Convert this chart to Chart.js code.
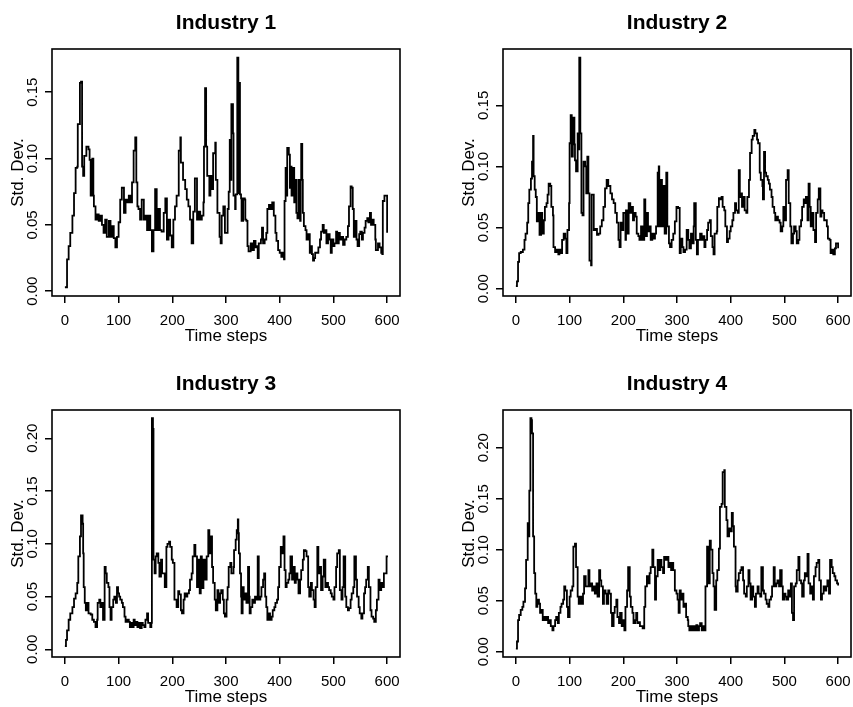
<!DOCTYPE html>
<html><head><meta charset="utf-8">
<script src="https://cdn.jsdelivr.net/npm/chart.js@4.4.1/dist/chart.umd.min.js"></script>
<style>
html,body{margin:0;padding:0;background:#fff;overflow:hidden;width:853px;height:707px;position:relative;}
canvas{position:absolute;}
</style></head><body>
<script>
// ---------- data ----------
const titles = ['Industry 1','Industry 2','Industry 3','Industry 4'];
const xLabel = 'Time steps';
const yLabel = 'Std. Dev.';
const xTickValues = [0,100,200,300,400,500,600];
const yTicks1 = ['0.00','0.05','0.10','0.15'];
const yTicks2 = ['0.00','0.05','0.10','0.15'];
const yTicks3 = ['0.00','0.05','0.10','0.15','0.20'];
const yTicks4 = ['0.00','0.05','0.10','0.15','0.20'];

const t1 = [0,4,7,10,14,17,20,23,24,28,30,32,34,36,40,44,46,48,51,53,54,57,60,63,66,69,72,75,78,82,85,88,91,94,97,100,103,106,110,113,116,119,122,125,128,131,133,135,137,140,143,147,150,153,156,159,162,165,168,171,174,177,180,184,187,190,193,196,199,202,205,208,212,215,216,220,224,227,230,233,236,239,242,246,249,252,255,258,259,261,263,265,269,271,273,276,280,281,284,288,290,292,295,
298,303,305,307,309,310,313,314,317,318,321,323,324,326,328,329,332,335,336,338,340,342,346,349,352,355,357,359,361,365,367,369,372,375,377,380,383,386,389,392,394,397,400,403,406,408,409,411,412,414,417,419,420,422,425,427,429,431,433,435,438,439,440,442,443,445,448,450,453,456,458,460,462,464,466,470,472,475,477,480,482,485,487,490,493,495,497,500,502,505,507,510,512,515,518,521,524,527,529,532,534,536,538,540,543,545,548,550,553,555,558,560,563,565,568,570,573,575,578,579,583,586,589,591,592,595,600];
const v1 = [.003,.024,.034,.044,.057,.074,.093,.094,.126,.157,.158,.094,.087,.102,.109,.107,.099,.072,.100,.072,.064,.054,.058,.053,.057,.050,.044,.054,.041,.053,.041,.049,.040,.033,.041,.052,.069,.078,.059,.069,.067,.072,.067,.082,.106,.116,.082,.064,.062,.054,.069,.054,.057,.046,.057,.046,.030,.046,.077,.046,.062,.046,.045,.059,.070,.039,.054,.042,.033,.054,.064,.072,.106,.116,.097,.084,.077,.069,.064,.054,.036,.060,.085,.054,.060,.054,.057,.067,.109,.153,.109,.087,.072,.087,.077,.104,.112,.084,.059,.041,.036,.057,.064,
.044,.062,.075,.114,.084,.141,.119,.072,.062,.073,.176,.074,.157,.073,.070,.053,.070,.069,.054,.053,.034,.030,.036,.031,.038,.033,.034,.025,.036,.039,.048,.036,.039,.044,.062,.065,.062,.067,.057,.044,.038,.031,.029,.026,.029,.024,.068,.093,.072,.108,.103,.078,.094,.072,.093,.067,.084,.059,.055,.084,.053,.084,.111,.084,.059,.049,.046,.039,.043,.029,.034,.028,.023,.025,.029,.029,.033,.039,.045,.050,.044,.046,.036,.043,.039,.029,.039,.034,.036,.045,.036,.044,.039,.041,.035,.039,.041,.049,.064,.079,.078,.062,.041,.053,.039,.034,.043,.045,.039,.044,.048,.053,.055,.052,.059,.050,.054,.050,.039,.031,.036,.033,.029,.028,.068,.072,.044];

const t2 = [0,2,4,6,9,13,16,18,21,23,25,28,30,32,33,35,37,39,42,44,47,49,52,54,57,59,61,64,66,69,70,73,76,79,81,84,86,89,92,94,96,99,100,102,104,106,109,110,112,115,117,118,120,122,124,126,129,131,133,135,137,140,141,145,148,151,154,157,160,163,166,169,172,176,179,182,185,188,191,193,195,198,200,204,205,208,210,213,215,218,220,223,225,228,230,233,236,239,241,244,246,249,251,254,256,259,261,264,266,267,270,272,275,277,280,282,285,287,290,293,
296,299,302,305,307,310,312,315,318,321,323,326,328,331,332,335,337,339,343,346,348,351,353,356,358,361,363,366,368,370,374,375,378,380,383,385,388,390,393,395,398,400,403,405,408,410,413,415,417,419,421,424,426,429,431,434,436,439,441,444,446,449,451,454,456,459,460,462,464,466,469,471,473,476,478,481,483,486,488,491,493,496,498,501,503,506,508,511,513,516,518,521,523,526,528,531,533,536,538,540,543,545,547,549,552,554,557,559,562,564,567,569,571,574,576,579,581,584,586,589,591,594,596,600];
const v2 = [.002,.006,.022,.029,.030,.032,.040,.045,.054,.070,.081,.090,.104,.125,.092,.081,.075,.055,.062,.044,.062,.045,.056,.067,.070,.077,.086,.084,.067,.060,.034,.030,.032,.028,.032,.029,.040,.045,.041,.029,.048,.070,.119,.142,.108,.140,.118,.105,.096,.127,.114,.189,.127,.062,.060,.104,.100,.078,.108,.078,.023,.019,.077,.048,.049,.044,.045,.051,.056,.067,.082,.089,.084,.078,.073,.070,.062,.054,.040,.034,.054,.048,.062,.040,.064,.045,.070,.062,.067,.056,.062,.059,.045,.043,.040,.051,.040,.073,.043,.062,.047,.051,.040,.045,.041,.045,.051,.095,.100,.051,.089,.051,.084,.045,.095,.051,.037,.034,.040,.045,
.055,.067,.066,.029,.041,.034,.030,.032,.048,.040,.033,.045,.037,.051,.070,.040,.028,.040,.045,.040,.043,.034,.040,.048,.054,.056,.043,.034,.028,.045,.047,.067,.074,.073,.075,.067,.064,.051,.038,.041,.047,.051,.056,.062,.070,.064,.062,.097,.075,.078,.067,.075,.064,.062,.075,.089,.111,.122,.125,.130,.127,.122,.119,.095,.089,.084,.073,.112,.095,.092,.089,.086,.081,.075,.067,.062,.056,.059,.056,.054,.047,.051,.067,.056,.089,.097,.070,.051,.037,.045,.051,.047,.037,.040,.051,.056,.067,.073,.070,.075,.056,.086,.067,.051,.062,.048,.038,.062,.073,.082,.059,.064,.062,.056,.056,.051,.041,.040,.029,.032,.028,.033,.037,.033];

const t3 = [0,2,4,7,10,14,17,20,23,25,28,30,33,34,35,37,39,41,44,48,51,54,57,60,61,64,66,69,71,74,76,78,81,83,85,87,90,92,95,97,99,101,103,106,108,111,113,116,119,121,123,126,128,130,133,135,138,140,143,145,148,150,153,155,159,161,162,164,165,167,169,171,174,176,179,181,184,186,189,191,194,196,199,201,204,206,208,211,213,216,218,221,223,226,228,231,233,236,238,241,243,246,248,251,253,255,258,261,264,267,269,272,274,276,279,281,284,286,289,291,294,296,
298,301,303,305,308,310,314,315,318,320,322,323,324,326,328,329,331,333,335,338,341,343,344,346,349,351,354,357,359,361,364,366,369,371,373,375,377,380,382,385,387,390,392,395,397,399,402,404,407,409,411,413,416,418,420,423,425,428,430,433,435,438,440,443,445,448,450,453,455,458,460,463,465,467,470,472,475,477,480,482,485,487,490,492,495,497,500,502,505,507,510,512,515,517,519,522,524,527,529,532,534,537,539,542,544,547,549,552,554,557,559,561,564,566,569,571,574,576,579,581,584,586,589,591,594,596,599,600];
const v3 = [.003,.009,.018,.028,.034,.040,.048,.053,.063,.088,.107,.127,.119,.091,.059,.044,.037,.044,.034,.033,.028,.026,.021,.028,.044,.047,.040,.044,.028,.078,.072,.063,.059,.040,.028,.040,.047,.050,.044,.059,.053,.050,.047,.044,.040,.031,.026,.028,.026,.021,.025,.021,.028,.023,.026,.021,.025,.020,.025,.023,.021,.028,.034,.025,.021,.025,.219,.209,.085,.072,.088,.091,.082,.069,.085,.072,.072,.059,.097,.100,.102,.097,.085,.082,.047,.047,.040,.055,.052,.037,.034,.047,.053,.050,.053,.056,.066,.072,.088,.099,.088,.059,.085,.053,.088,.058,.085,.066,.088,.113,.091,.107,.078,.063,.047,.037,.056,.044,.053,.056,.047,.034,
.031,.047,.059,.078,.082,.072,.078,.094,.104,.113,.123,.110,.091,.072,.050,.034,.059,.047,.053,.044,.078,.050,.034,.040,.047,.044,.050,.047,.088,.047,.050,.059,.066,.072,.050,.040,.028,.034,.028,.031,.037,.040,.044,.047,.059,.078,.097,.091,.107,.075,.059,.063,.066,.072,.088,.066,.078,.063,.072,.066,.053,.066,.075,.085,.094,.093,.088,.059,.050,.063,.056,.047,.040,.059,.097,.072,.078,.056,.069,.085,.059,.063,.059,.056,.053,.050,.047,.059,.078,.091,.094,.056,.047,.059,.088,.050,.040,.037,.039,.047,.053,.059,.088,.066,.050,.040,.034,.029,.034,.053,.059,.066,.078,.059,.037,.031,.029,.026,.037,.047,.066,.056,.063,.059,.072,.072,.088,.089];

const t4 = [0,2,4,6,9,12,14,17,19,22,24,25,27,29,30,32,34,36,38,40,43,45,48,50,53,55,58,60,63,65,68,70,73,75,78,80,83,85,88,90,92,95,97,100,102,105,107,110,112,115,117,120,122,125,127,130,132,135,137,140,142,145,147,150,152,155,157,159,162,164,167,169,172,174,177,179,182,184,187,189,192,194,197,199,202,204,207,209,212,214,217,219,222,224,226,229,231,234,236,239,241,244,246,249,251,254,256,259,261,264,266,269,271,274,276,279,281,284,286,289,291,293,
296,299,301,303,305,307,310,312,315,317,320,321,323,326,328,331,333,336,338,341,343,346,348,351,353,356,358,361,363,366,368,370,373,375,378,380,383,385,388,389,392,394,397,399,402,404,406,409,410,413,415,418,420,423,425,428,430,433,435,437,440,442,445,447,450,452,455,457,460,462,465,467,470,472,475,477,480,482,485,487,490,492,495,497,500,502,504,507,509,512,514,516,518,521,523,526,528,531,533,536,538,540,543,545,548,550,553,555,558,560,563,565,568,570,573,575,578,580,583,585,588,590,593,595,598,600];
const v4 = [.003,.010,.031,.036,.041,.044,.049,.062,.090,.126,.113,.158,.229,.227,.214,.113,.077,.057,.044,.051,.047,.038,.041,.031,.034,.031,.034,.028,.031,.025,.021,.025,.031,.034,.028,.038,.044,.047,.051,.064,.060,.044,.034,.054,.060,.064,.103,.106,.083,.054,.047,.054,.047,.057,.074,.064,.064,.080,.064,.067,.060,.064,.057,.067,.054,.080,.070,.064,.047,.060,.057,.047,.060,.057,.038,.025,.038,.044,.051,.034,.028,.038,.025,.031,.021,.044,.060,.083,.054,.044,.038,.028,.031,.038,.028,.029,.025,.025,.023,.044,.064,.074,.067,.077,.083,.100,.083,.051,.074,.090,.080,.090,.083,.077,.093,.090,.093,.083,.087,.080,.087,.080,
.060,.057,.051,.038,.060,.051,.057,.044,.047,.034,.031,.025,.021,.025,.021,.025,.021,.026,.021,.025,.028,.021,.025,.021,.064,.103,.067,.109,.100,.077,.064,.041,.070,.080,.101,.142,.145,.176,.178,.142,.129,.113,.121,.118,.136,.123,.103,.064,.059,.070,.077,.080,.083,.070,.057,.054,.064,.080,.067,.051,.064,.054,.044,.057,.064,.057,.054,.083,.060,.057,.051,.047,.044,.051,.054,.064,.083,.064,.067,.070,.064,.080,.064,.051,.057,.054,.051,.060,.054,.067,.038,.031,.064,.067,.080,.093,.070,.067,.054,.070,.077,.074,.096,.067,.057,.064,.051,.074,.083,.087,.090,.070,.051,.057,.064,.060,.064,.070,.057,.090,.083,.077,.074,.070,.067,.065];

// ---------- layout ----------
const FONT = "'Liberation Sans', Arial, sans-serif";
Chart.defaults.font.family = FONT;
Chart.defaults.color = '#000';

const panels = [
  {title: titles[0], t: t1, v: v1, yTicks: yTicks1, yMin: -0.0036, yMax: 0.1826, box: {l: 52, t: 49, r: 400, b: 296}},
  {title: titles[1], t: t2, v: v2, yTicks: yTicks2, yMin: -0.0060, yMax: 0.1961, box: {l: 503, t: 49, r: 851, b: 296}},
  {title: titles[2], t: t3, v: v3, yTicks: yTicks3, yMin: -0.0073, yMax: 0.2268, box: {l: 52, t: 410, r: 400, b: 657}},
  {title: titles[3], t: t4, v: v4, yTicks: yTicks4, yMin: -0.0052, yMax: 0.2370, box: {l: 503, t: 410, r: 851, b: 657}}
];

const rStyle = {
  id: 'rstyle',
  afterDraw(chart, args, opts) {
    const ctx = chart.ctx, a = chart.chartArea;
    ctx.save();
    ctx.strokeStyle = '#000';
    ctx.lineWidth = 1.6;
    ctx.strokeRect(a.left, a.top, a.right - a.left, a.bottom - a.top);
    const ys = chart.scales.y;
    ctx.font = '15px ' + FONT;
    ctx.fillStyle = '#000';
    ctx.textAlign = 'center';
    ctx.textBaseline = 'middle';
    for (const lab of opts.labels) {
      const py = ys.getPixelForValue(parseFloat(lab));
      ctx.save();
      ctx.translate(a.left - 19.5, py);
      ctx.rotate(-Math.PI / 2);
      ctx.fillText(lab, 0, 0);
      ctx.restore();
    }
    ctx.restore();
  }
};

panels.forEach(p => {
  const c = document.createElement('canvas');
  const w = p.box.r - p.box.l + 104;
  const h = p.box.b - p.box.t + 107;
  c.width = w; c.height = h;
  c.style.left = (p.box.l - 52) + 'px';
  c.style.top = (p.box.t - 50) + 'px';
  c.style.width = w + 'px';
  c.style.height = h + 'px';
  document.body.appendChild(c);
  const gridOpts = {display: true, drawOnChartArea: false, drawTicks: true, tickLength: 7,
                    tickColor: '#000', tickWidth: 1.5, color: '#000', lineWidth: 1.5};
  new Chart(c, {
    type: 'line',
    data: {datasets: [{
      data: p.t.map((x, i) => ({x: x, y: p.v[i]})),
      borderColor: '#000', borderWidth: 1.8, pointRadius: 0, stepped: true, fill: false
    }]},
    options: {
      responsive: false, animation: false, devicePixelRatio: 1, events: [],
      layout: {padding: {left: 0, right: 52, top: 0, bottom: 0}},
      plugins: {
        legend: {display: false},
        tooltip: {enabled: false},
        title: {display: true, text: p.title, fullSize: false, color: '#000',
                font: {size: 21, weight: 'bold', lineHeight: 1.2},
                padding: {top: 11.4, bottom: 13.4}},
        rstyle: {labels: p.yTicks}
      },
      scales: {
        x: {
          type: 'linear', position: 'bottom', min: -24, max: 624,
          afterBuildTicks: s => { s.ticks = xTickValues.map(v => ({value: v})); },
          afterFit: s => { s.height = 57; },
          grid: gridOpts,
          border: {display: false},
          ticks: {font: {size: 15}, color: '#000', padding: 9, maxRotation: 0, autoSkip: false,
                  callback: v => String(v)},
          title: {display: true, text: xLabel, color: '#000', font: {size: 17},
                  padding: {top: 0, bottom: 6.6}}
        },
        y: {
          type: 'linear', position: 'left', min: p.yMin, max: p.yMax,
          afterBuildTicks: s => { s.ticks = p.yTicks.map(v => ({value: parseFloat(v)})); },
          afterFit: s => { s.width = 52; },
          grid: gridOpts,
          border: {display: false},
          ticks: {display: false},
          title: {display: true, text: yLabel, color: '#000', font: {size: 17},
                  padding: {top: 7.8, bottom: 0}}
        }
      }
    },
    plugins: [rStyle]
  });
});
</script>
</body></html>
